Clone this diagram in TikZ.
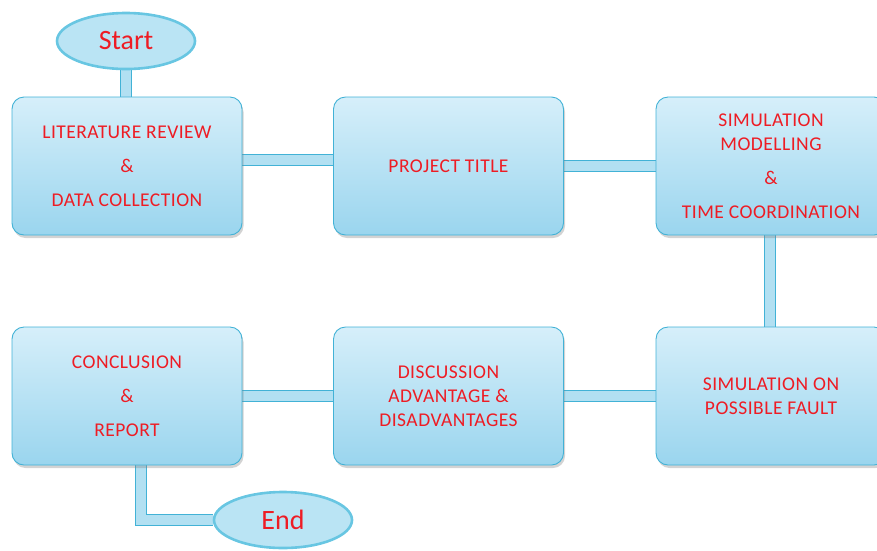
\documentclass[tikz,border=0pt]{standalone}
\usepackage{fontspec}
\setmainfont{Carlito}
\newfontfamily\boxfont{Carlito}[LetterSpace=2.5]
\usetikzlibrary{shadows,calc,shapes.geometric}
\definecolor{txtred}{RGB}{238,28,36}
\definecolor{boxtop}{RGB}{214,239,250}
\definecolor{boxbot}{RGB}{154,213,238}
\definecolor{boxline}{RGB}{66,178,214}
\definecolor{barfill}{RGB}{178,224,242}
\definecolor{ovalfill}{RGB}{186,228,244}
\definecolor{ovalline}{RGB}{104,198,226}
\pgfdeclarelayer{background}
\pgfsetlayers{background,main}
\tikzset{
  stepbox/.style={rectangle, rounded corners=12pt, minimum width=230pt,
    minimum height=138pt, draw=boxline, line width=0.9pt,
    top color=boxtop, bottom color=boxbot, align=center,
    text=txtred, font=\boxfont\fontsize{19.5}{24}\selectfont,
    drop shadow={shadow xshift=1.5pt, shadow yshift=-3pt, opacity=0.35}},
  oval/.style={ellipse, minimum width=138pt, minimum height=56pt,
    draw=ovalline, line width=2.6pt, fill=ovalfill, text=txtred,
    font=\fontsize{28}{32}\selectfont, inner sep=0pt},
  bar/.style={draw=boxline, line width=0.8pt, double=barfill,
    double distance=10pt},
}
\begin{document}
\begin{tikzpicture}[x=1pt,y=-1pt]
\useasboundingbox (0,0) rectangle (877,550);
\clip (0,0) rectangle (877,550);
% process steps
\node[stepbox] (b1) at (127,166) {LITERATURE REVIEW\\[10pt]\&\\[10pt]DATA COLLECTION};
\node[stepbox] (b2) at (448.5,166) {PROJECT TITLE};
\node[stepbox] (b3) at (771,166) {SIMULATION\\MODELLING\\[10pt]\&\\[10pt]TIME COORDINATION};
\node[stepbox] (b4) at (127,396) {CONCLUSION\\[10pt]\&\\[10pt]REPORT};
\node[stepbox] (b5) at (448.5,396) {DISCUSSION\\ADVANTAGE \&\\DISADVANTAGES};
\node[stepbox] (b6) at (771,396) {SIMULATION ON\\POSSIBLE FAULT};
% terminals
\node[oval] (start) at (126,41) {Start};
\node[oval] (end) at (283,520) {End};
% connecting bars
\begin{pgfonlayer}{background}
\draw[bar] (start.south) -- (start.south |- b1.north);
\draw[bar] ([yshift=6pt]b1.east) -- ([yshift=6pt]b2.west);
\draw[bar] (b2.east) -- (b3.west);
\draw[bar] ([xshift=-1pt]b3.south) -- ([xshift=-1pt]b6.north);
\draw[bar] (b6.west) -- (b5.east);
\draw[bar] (b5.west) -- (b4.east);
\draw[bar] ([xshift=14pt]b4.south) |- (end.west);
\end{pgfonlayer}
\end{tikzpicture}
\end{document}
